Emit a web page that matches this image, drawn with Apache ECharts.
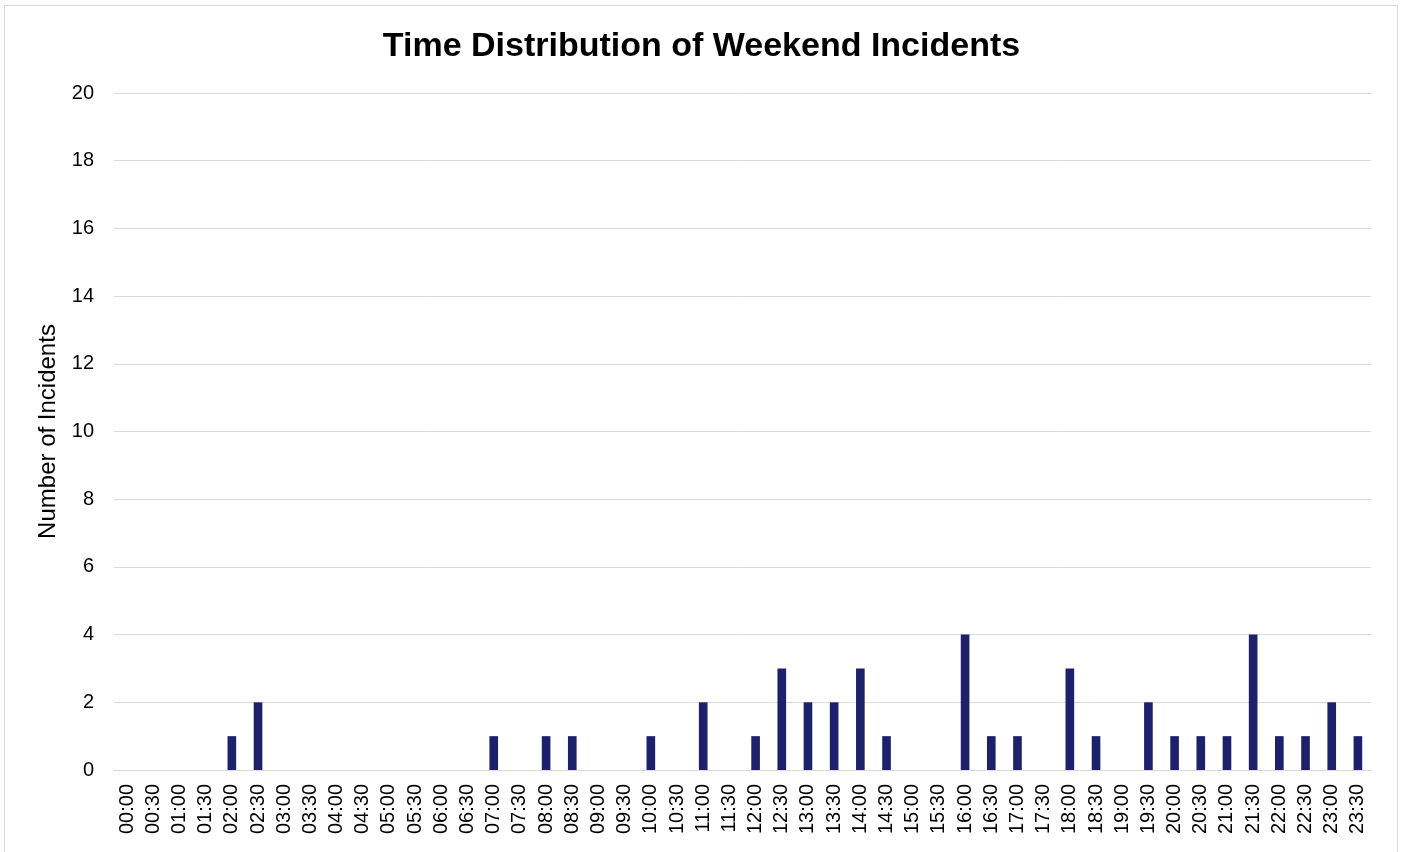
<!DOCTYPE html>
<html lang="en">
<head>
    <meta charset="UTF-8">
    <title>Time Distribution of Weekend Incidents</title>
    <script src="https://cdn.jsdelivr.net/npm/echarts@6/dist/echarts.min.js"></script>
    <style>
        html, body { margin: 0; padding: 0; background: #fff; }
        #main { width: 1403px; height: 852px; }
    </style>
</head>
<body>
<div id="main"></div>
<script type="text/javascript">
    // half-hour slots
    var timeSlots = [
        '00:00', '00:30', '01:00', '01:30', '02:00', '02:30', '03:00', '03:30',
        '04:00', '04:30', '05:00', '05:30', '06:00', '06:30', '07:00', '07:30',
        '08:00', '08:30', '09:00', '09:30', '10:00', '10:30', '11:00', '11:30',
        '12:00', '12:30', '13:00', '13:30', '14:00', '14:30', '15:00', '15:30',
        '16:00', '16:30', '17:00', '17:30', '18:00', '18:30', '19:00', '19:30',
        '20:00', '20:30', '21:00', '21:30', '22:00', '22:30', '23:00', '23:30'
    ];
    var incidentCounts = [
        0, 0, 0, 0, 1, 2, 0, 0,
        0, 0, 0, 0, 0, 0, 1, 0,
        1, 1, 0, 0, 1, 0, 2, 0,
        1, 3, 2, 2, 3, 1, 0, 0,
        4, 1, 1, 0, 3, 1, 0, 2,
        1, 1, 1, 4, 1, 1, 2, 1
    ];

    var myChart = echarts.init(document.getElementById('main'));
    var font = 'Liberation Sans, Arial, sans-serif';

    myChart.setOption({
        animation: false,
        textStyle: { fontFamily: font },
        title: {
            text: 'Time Distribution of Weekend Incidents',
            left: 'center',
            top: 25,
            textStyle: { fontSize: 34, fontWeight: 'bold', color: '#000', fontFamily: font }
        },
        graphic: [{
            type: 'rect',
            shape: { x: 4.5, y: 5.5, width: 1393, height: 850 },
            style: { fill: 'none', stroke: '#d9d9d9', lineWidth: 1 },
            silent: true
        }],
        grid: {
            left: 114,
            right: 32,
            top: 93,
            bottom: 82,
            containLabel: false
        },
        xAxis: {
            type: 'category',
            data: timeSlots,
            axisLine: { show: true, lineStyle: { color: '#d9d9d9', width: 1 } },
            axisTick: { show: false },
            axisLabel: {
                interval: 0,
                rotate: 90,
                color: '#000',
                fontSize: 20,
                margin: 14,
                fontFamily: font
            }
        },
        yAxis: {
            type: 'value',
            min: 0,
            max: 20,
            interval: 2,
            name: 'Number of Incidents',
            nameLocation: 'middle',
            nameGap: 54,
            nameRotate: 90,
            nameTextStyle: { fontSize: 24, color: '#000', fontFamily: font },
            axisLine: { show: false },
            axisTick: { show: false },
            axisLabel: { color: '#000', fontSize: 20, margin: 20, fontFamily: font },
            splitLine: { lineStyle: { color: '#d9d9d9', width: 1 } }
        },
        series: [{
            name: 'Incidents',
            type: 'bar',
            data: incidentCounts,
            barWidth: '33%',
            itemStyle: { color: '#1d216b' }
        }]
    });
</script>
</body>
</html>
